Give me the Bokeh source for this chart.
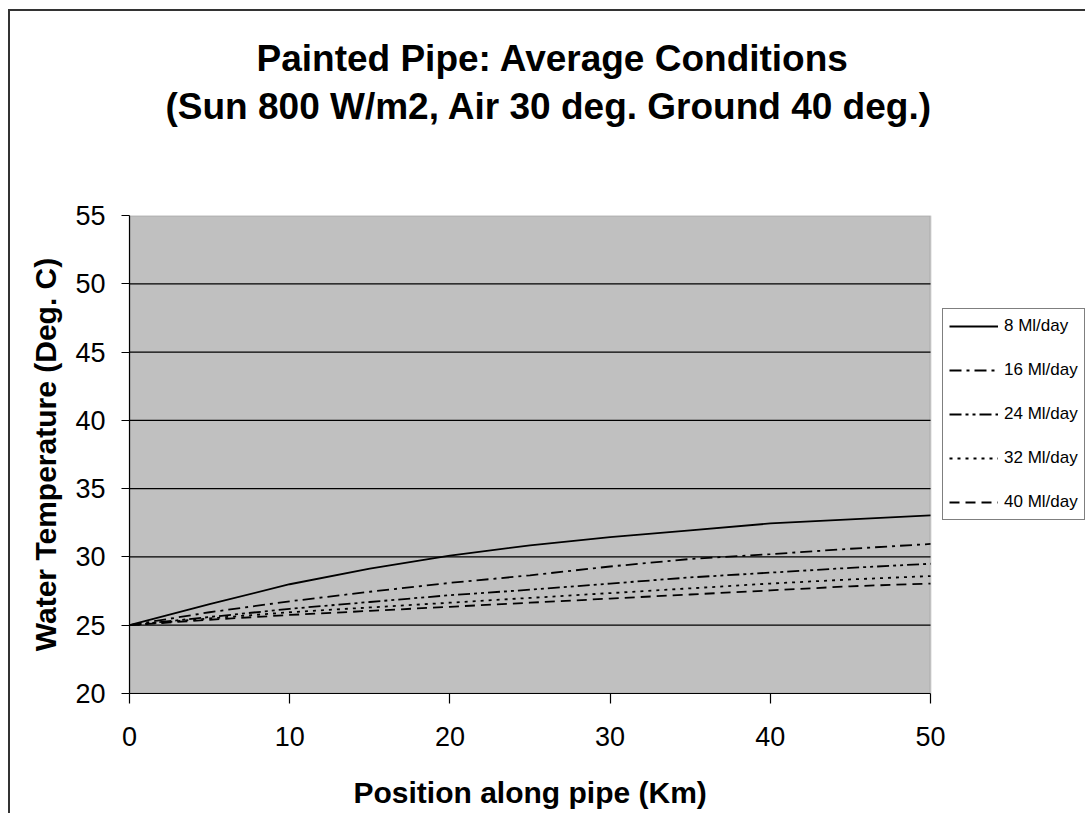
from bokeh.plotting import figure
from bokeh.models import (Range1d, Legend, LegendItem, Title, FixedTicker,
                          ColumnDataSource, BoxAnnotation)
from bokeh.embed import file_html
from bokeh.resources import INLINE

# ---- data ----
position_km = [0, 5, 10, 15, 20, 25, 30, 35, 40, 45, 50]
temp_8 = [25.0, 26.55, 28.0, 29.15, 30.1, 30.85, 31.45, 31.95, 32.45, 32.75, 33.05]
temp_16 = [25.0, 25.95, 26.75, 27.45, 28.1, 28.65, 29.3, 29.85, 30.2, 30.6, 30.95]
temp_24 = [25.0, 25.6, 26.2, 26.7, 27.2, 27.6, 28.05, 28.5, 28.85, 29.2, 29.5]
temp_32 = [25.0, 25.5, 25.95, 26.3, 26.65, 27.0, 27.35, 27.7, 28.05, 28.35, 28.6]
temp_40 = [25.0, 25.4, 25.75, 26.05, 26.35, 26.65, 26.95, 27.25, 27.55, 27.85, 28.05]
series_names = ["8 Ml/day", "16 Ml/day", "24 Ml/day", "32 Ml/day", "40 Ml/day"]
series_values = [temp_8, temp_16, temp_24, temp_32, temp_40]
x_ticks = [0, 10, 20, 30, 40, 50]
y_ticks = [20, 25, 30, 35, 40, 45, 50, 55]
title_line1 = "Painted Pipe: Average Conditions"
title_line2 = "(Sun 800 W/m2, Air 30 deg. Ground 40 deg.)"
x_label = "Position along pipe (Km)"
y_label = "Water Temperature (Deg. C)"

dashes = ["solid", "12 5 3 5", "12 4 3 4 3 4", "3 5", "10 6"]

FONT = "Liberation Sans"

X0, X1 = x_ticks[0], x_ticks[-1]
Y0, Y1 = y_ticks[0], y_ticks[-1]
PLOT_PX = 801      # pixel width of the 0..50 km plot area
FRAME_PX = 958     # frame also holds the legend to its right
x_view_end = X0 + (X1 - X0) * FRAME_PX / PLOT_PX

p = figure(width=1077, height=804, output_backend="svg", toolbar_location=None,
           x_range=Range1d(X0, x_view_end), y_range=Range1d(Y0, Y1),
           min_border_left=119, min_border_right=0,
           min_border_top=204, min_border_bottom=122,
           background_fill_color="white", border_fill_color="white",
           outline_line_color=None)
p.title = None
p.margin = (11, 0, 0, 10)
p.styles = {"box-shadow": "-2px -2px 0px 0px #333333"}

# spacer + two title lines (first added sits closest to the frame)
spacer = Title(text=" ", text_font=FONT, text_font_size="10px", standoff=76)
t2 = Title(text=title_line2, align="left", offset=36,
           text_font=FONT, text_font_size="37px", text_font_style="bold",
           text_color="black", standoff=0)
t1 = Title(text=title_line1, align="left", offset=127,
           text_font=FONT, text_font_size="37px", text_font_style="bold",
           text_color="black", standoff=10)
p.add_layout(spacer, "above")
p.add_layout(t2, "above")
p.add_layout(t1, "above")

# grey plot area with grey top/right edge
plot_area = BoxAnnotation(left=X0, right=X1, bottom=Y0, top=Y1,
                          fill_color="#C0C0C0", fill_alpha=1,
                          line_color="#808080", line_width=2, level="underlay")
p.add_layout(plot_area)

# horizontal grid lines across the plot area only
grid_y = [v for v in y_ticks if Y0 < v < Y1]
grid_src = ColumnDataSource(dict(x0=[X0] * len(grid_y), x1=[X1] * len(grid_y),
                                 y=grid_y))
p.segment(x0="x0", x1="x1", y0="y", y1="y", source=grid_src,
          line_color="black", line_width=1.3)

# axes
for ax in (p.xaxis[0], p.yaxis[0]):
    ax.axis_line_color = "black"
    ax.axis_line_width = 1.2
    ax.major_tick_line_color = "black"
    ax.major_tick_line_width = 1.2
    ax.major_tick_in = 0
    ax.minor_tick_line_color = None
    ax.major_label_text_font = FONT
    ax.major_label_text_font_size = "27px"
    ax.major_label_text_color = "black"
    ax.axis_label_text_font = FONT
    ax.axis_label_text_font_style = "bold"
    ax.axis_label_text_font_size = "30px"
    ax.axis_label_text_color = "black"

p.xaxis.bounds = (X0, X1)
p.xaxis.ticker = FixedTicker(ticks=x_ticks)
p.yaxis.ticker = FixedTicker(ticks=y_ticks)
p.xaxis.major_tick_out = 10
p.yaxis.major_tick_out = 8
p.xaxis.major_label_standoff = 23
p.yaxis.major_label_standoff = 16
p.yaxis.axis_label = y_label
p.yaxis.axis_label_standoff = 10

# x-axis title, centred under the 0..50 km plot area (spacer first)
xspacer = Title(text=" ", text_font=FONT, text_font_size="1px", standoff=20)
xt = Title(text=x_label, align="left", offset=224,
           text_font=FONT, text_font_size="30px", text_font_style="bold",
           text_color="black", standoff=4)
p.add_layout(xspacer, "below")
p.add_layout(xt, "below")

p.xgrid.grid_line_color = None
p.ygrid.grid_line_color = None

items = []
for name, vals, dash in zip(series_names, series_values, dashes):
    src = ColumnDataSource(dict(x=position_km, y=vals))
    r = p.line("x", "y", source=src, line_color="black", line_width=1.8,
               line_dash=dash)
    items.append(LegendItem(label=name, renderers=[r]))

legend = Legend(items=items, location=(813, 173),
                label_text_font=FONT, label_text_font_size="17px",
                label_text_color="black",
                glyph_width=49, glyph_height=22, spacing=22,
                label_standoff=6, padding=6, margin=0,
                border_line_color="black", border_line_width=1,
                background_fill_color="white", background_fill_alpha=1)
p.add_layout(legend, "center")

open("out.html", "w").write(file_html(p, INLINE))
